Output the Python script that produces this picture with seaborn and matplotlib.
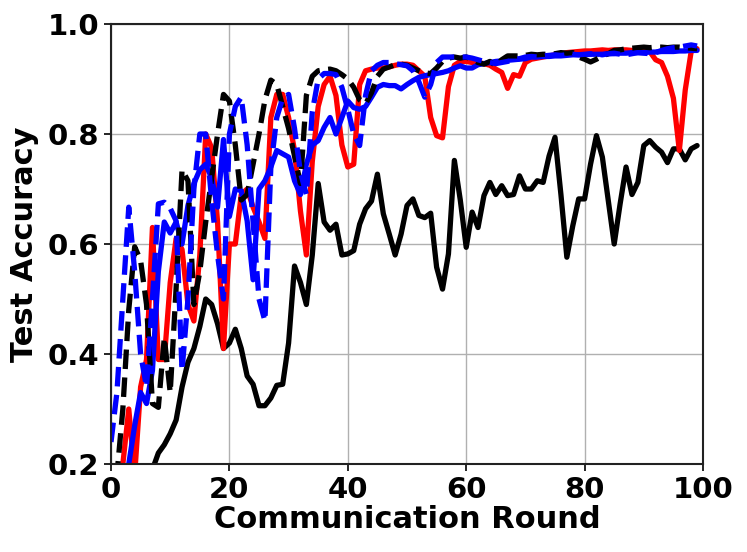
# Test accuracy per communication round, five runs
import numpy as np
import pandas as pd
import matplotlib
matplotlib.use('Agg')
import matplotlib.pyplot as plt
import seaborn as sns

rounds = list(range(100))

# black solid
acc_black = [0.10, 0.10, 0.11, 0.12, 0.13, 0.15, 0.17, 0.19, 0.22, 0.235,
             0.255, 0.28, 0.34, 0.385, 0.41, 0.45, 0.50, 0.49, 0.455, 0.41,
             0.42, 0.445, 0.41, 0.36, 0.345, 0.306, 0.306, 0.32, 0.343, 0.345,
             0.42, 0.56, 0.53, 0.49, 0.58, 0.71, 0.64, 0.625, 0.636, 0.58,
             0.582, 0.588, 0.636, 0.664, 0.678, 0.727, 0.655, 0.618, 0.58, 0.618,
             0.67, 0.682, 0.652, 0.648, 0.656, 0.558, 0.518, 0.582, 0.752, 0.68,
             0.594, 0.658, 0.63, 0.688, 0.712, 0.69, 0.706, 0.688, 0.69, 0.724,
             0.70, 0.70, 0.715, 0.712, 0.76, 0.794, 0.69, 0.576, 0.633, 0.682,
             0.682, 0.745, 0.797, 0.758, 0.679, 0.60, 0.673, 0.74, 0.69, 0.712,
             0.779, 0.788, 0.776, 0.767, 0.748, 0.773, 0.773, 0.753, 0.773, 0.779]

# red solid
acc_red = [0.12, 0.15, 0.20, 0.30, 0.18, 0.34, 0.39, 0.63, 0.39, 0.39,
           0.53, 0.61, 0.59, 0.49, 0.46, 0.58, 0.80, 0.775, 0.64, 0.41,
           0.60, 0.60, 0.69, 0.70, 0.667, 0.64, 0.61, 0.83, 0.872, 0.872,
           0.83, 0.77, 0.66, 0.58, 0.75, 0.85, 0.89, 0.905, 0.87, 0.78,
           0.74, 0.745, 0.89, 0.915, 0.918, 0.92, 0.92, 0.922, 0.925, 0.927,
           0.927, 0.925, 0.915, 0.905, 0.83, 0.797, 0.793, 0.886, 0.925, 0.932,
           0.932, 0.93, 0.93, 0.928, 0.925, 0.918, 0.912, 0.883, 0.908, 0.905,
           0.93, 0.936, 0.938, 0.94, 0.942, 0.944, 0.946, 0.948, 0.949, 0.95,
           0.951, 0.951, 0.952, 0.953, 0.952, 0.953, 0.953, 0.953, 0.952, 0.953,
           0.953, 0.95, 0.935, 0.93, 0.905, 0.865, 0.77, 0.88, 0.95, 0.955]

# blue solid
acc_blue = [0.10, 0.12, 0.16, 0.20, 0.27, 0.33, 0.31, 0.37, 0.55, 0.64,
            0.62, 0.64, 0.60, 0.67, 0.71, 0.735, 0.745, 0.72, 0.667, 0.79,
            0.65, 0.70, 0.697, 0.642, 0.535, 0.70, 0.715, 0.74, 0.77, 0.764,
            0.758, 0.715, 0.69, 0.745, 0.78, 0.788, 0.812, 0.83, 0.80, 0.83,
            0.86, 0.848, 0.845, 0.85, 0.867, 0.885, 0.89, 0.888, 0.888, 0.882,
            0.89, 0.897, 0.903, 0.906, 0.908, 0.91, 0.912, 0.915, 0.92, 0.924,
            0.92, 0.92, 0.926, 0.928, 0.93, 0.932, 0.933, 0.934, 0.935, 0.936,
            0.937, 0.94, 0.94, 0.941, 0.941, 0.942, 0.942, 0.943, 0.944, 0.944,
            0.944, 0.945, 0.945, 0.945, 0.946, 0.946, 0.947, 0.947, 0.948, 0.948,
            0.948, 0.949, 0.949, 0.95, 0.95, 0.95, 0.951, 0.951, 0.952, 0.952]

# black dashed
acc_black_d = [0.12, 0.18, 0.30, 0.48, 0.595, 0.57, 0.49, 0.31, 0.303, 0.43,
               0.33, 0.52, 0.735, 0.715, 0.49, 0.55, 0.64, 0.72, 0.80, 0.872,
               0.86, 0.78, 0.68, 0.69, 0.745, 0.80, 0.862, 0.898, 0.89, 0.85,
               0.81, 0.76, 0.71, 0.87, 0.905, 0.915, 0.917, 0.918, 0.915, 0.908,
               0.90, 0.885, 0.862, 0.855, 0.875, 0.905, 0.918, 0.922, 0.926, 0.927,
               0.925, 0.92, 0.915, 0.911, 0.91, 0.92, 0.932, 0.938, 0.94, 0.938,
               0.94, 0.935, 0.93, 0.927, 0.932, 0.924, 0.935, 0.942, 0.942, 0.942,
               0.943, 0.945, 0.944, 0.945, 0.945, 0.946, 0.948, 0.947, 0.948, 0.94,
               0.936, 0.931, 0.936, 0.942, 0.946, 0.952, 0.953, 0.955, 0.956, 0.957,
               0.958, 0.957, 0.958, 0.958, 0.957, 0.958, 0.958, 0.957, 0.956, 0.955]

# blue dashed
acc_blue_d = [0.24, 0.33, 0.50, 0.667, 0.55, 0.40, 0.34, 0.50, 0.673, 0.676,
              0.665, 0.642, 0.37, 0.50, 0.70, 0.80, 0.80, 0.68, 0.58, 0.50,
              0.80, 0.85, 0.867, 0.78, 0.64, 0.50, 0.46, 0.74, 0.83, 0.865,
              0.872, 0.81, 0.73, 0.69, 0.84, 0.90, 0.91, 0.91, 0.908, 0.885,
              0.845, 0.80, 0.779, 0.87, 0.915, 0.925, 0.93, 0.93, 0.928, 0.926,
              0.924, 0.915, 0.895, 0.867, 0.89, 0.93, 0.94, 0.94, 0.94, 0.94,
              0.94, 0.938, 0.935, 0.932, 0.93, 0.928, 0.93, 0.932, 0.935, 0.937,
              0.94, 0.941, 0.94, 0.942, 0.943, 0.944, 0.943, 0.944, 0.945, 0.944,
              0.945, 0.946, 0.945, 0.944, 0.946, 0.947, 0.945, 0.944, 0.946, 0.948,
              0.947, 0.946, 0.948, 0.952, 0.955, 0.957, 0.958, 0.96, 0.962, 0.96]

series = [
    (acc_black, 'black', '-'),
    (acc_red, 'red', '-'),
    (acc_blue, 'blue', '-'),
    (acc_black_d, 'black', '--'),
    (acc_blue_d, 'blue', '--'),
]

sns.set_style('ticks')
plt.rcParams['font.family'] = ['DejaVu Sans']
plt.rcParams['font.weight'] = 'bold'
plt.rcParams['text.color'] = 'black'
plt.rcParams['axes.labelcolor'] = 'black'
plt.rcParams['xtick.color'] = 'black'
plt.rcParams['ytick.color'] = 'black'

fig = plt.figure(figsize=(7.47, 5.52), dpi=100)
ax = fig.add_axes([0.1486, 0.1594, 0.7925, 0.7971])

for vals, col, ls in series:
    df = pd.DataFrame({'round': rounds, 'acc': vals})
    sns.lineplot(data=df, x='round', y='acc', color=col, linestyle=ls,
                 linewidth=3.8, ax=ax)

ax.set_xlim(0, 100)
ax.set_ylim(0.2, 1.0)
ax.set_xticks([0, 20, 40, 60, 80, 100])
ax.set_yticks([0.2, 0.4, 0.6, 0.8, 1.0])
ax.grid(True, color='#b0b0b0', linewidth=1.0)
ax.set_xlabel('Communication Round', fontsize=22, fontweight='bold', labelpad=1)
ax.set_ylabel('Test Accuracy', fontsize=22, fontweight='bold', labelpad=6)
ax.tick_params(labelsize=21, width=1.2, length=5, colors='black')
for lab in ax.get_xticklabels() + ax.get_yticklabels():
    lab.set_fontweight('bold')
for sp in ax.spines.values():
    sp.set_color('#222222')
    sp.set_linewidth(1.5)

plt.savefig('out.png', dpi=100)
